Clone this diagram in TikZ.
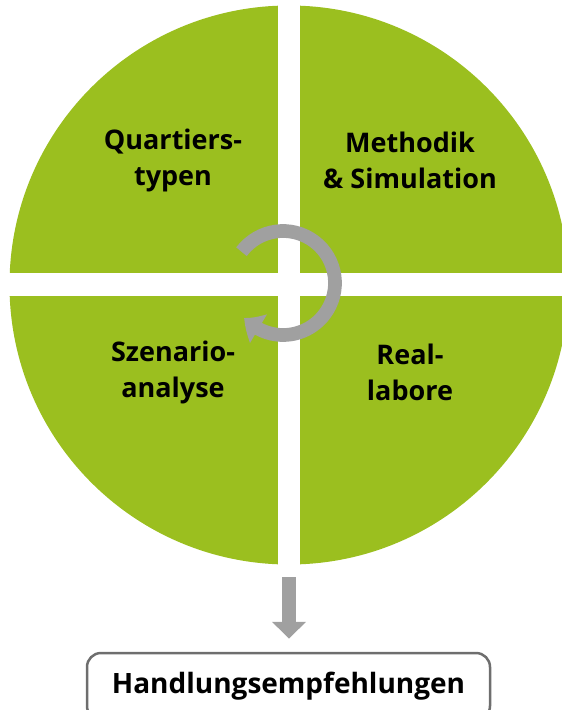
\documentclass[tikz,border=0pt]{standalone}
\usepackage{fontspec}
\setmainfont{Open Sans}
\usetikzlibrary{arrows.meta,bending}

\definecolor{leafgreen}{RGB}{155,191,31}
\definecolor{cyclegray}{RGB}{160,160,160}
\definecolor{framegray}{RGB}{110,110,110}

\begin{document}
\begin{tikzpicture}[x=1pt,y=-1pt]
		\tikzset{quadlabel/.style={align=center, font=\bfseries\fontsize{27}{36}\selectfont, inner sep=0pt},
			grayarrow/.style={draw=cyclegray, line width=13.7pt},
			resultbox/.style={rectangle, draw=framegray, line width=2.5pt, rounded corners=14pt,
				minimum width=403pt, minimum height=67pt, font=\bfseries\fontsize{28}{30}\selectfont}}
		\useasboundingbox (0,0) rectangle (562,710);
		
		% disc split into four quarters by a white cross
		\coordinate (disc) at (289,285);
		\fill[leafgreen] (disc) circle (279.5);
		\fill[white] (278,0) rectangle (300,570);
		\fill[white] (0,273) rectangle (570,296);
		
		\node[quadlabel] (quartier) at (173,160) {Quartiers-\\typen};
		\node[quadlabel] (methodik) at (410,160) {Methodik\\\& Simulation};
		\node[quadlabel] (szenario) at (173,372) {Szenario-\\analyse};
		\node[quadlabel] (reallabor) at (410,372) {Real-\\labore};
		
		% cycle arrow round the middle
		\coordinate (cycle) at (283,283);
		\draw[grayarrow, -{Triangle[length=18pt, width=32pt, bend]}]
			([shift={(-143:52)}]cycle) arc[start angle=-143, end angle=138, radius=52];
		
		\node[resultbox] (empfehlung) at (288.5,686.5) {Handlungsempfehlungen};
		\coordinate (discfoot) at (289,577);
		\draw[grayarrow, -{Triangle[length=17pt, width=33pt]}, shorten >=13pt] (discfoot) -- (discfoot |- empfehlung.north);
		
\end{tikzpicture}
\end{document}
